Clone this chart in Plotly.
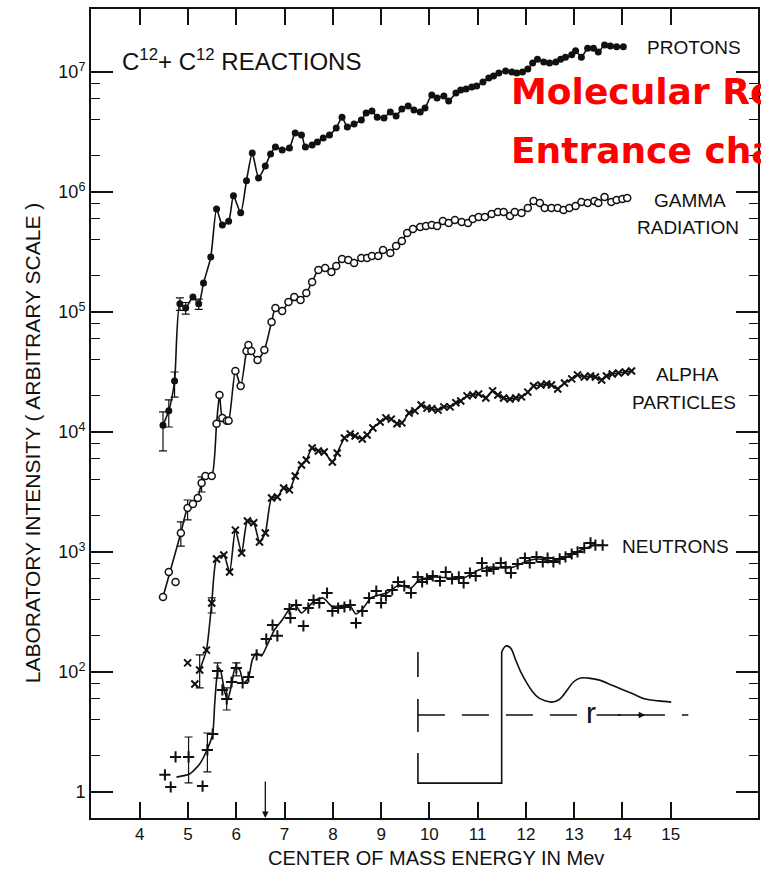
import plotly.graph_objects as go

# ---------------- data ----------------
protons_E = [4.48,4.60,4.72,4.83,4.95,5.10,5.22,5.32,5.47,5.59,5.71,5.84,5.94,6.09,6.21,6.33,6.46,6.60,6.71,6.81,
             6.95,7.10,7.22,7.35,7.43,7.57,7.68,7.80,7.93,8.07,8.19,8.30,8.44,8.59,8.69,8.81,8.92,9.06,9.19,9.31,
             9.43,9.56,9.68,9.81,9.91,10.05,10.16,10.30,10.40,10.55,10.65,10.76,10.88,10.98,11.11,11.23,11.33,11.44,11.58,11.71,
             11.81,11.93,12.04,12.14,12.24,12.37,12.49,12.62,12.72,12.82,12.95,13.03,13.15,13.28,13.40,13.50,13.63,13.75,13.88,14.02]
protons_I = [1.14e4,1.50e4,2.66e4,1.17e5,1.08e5,1.33e5,1.17e5,1.74e5,2.87e5,7.2e5,5.3e5,5.7e5,9.3e5,6.7e5,1.24e6,2.11e6,1.31e6,1.65e6,2.07e6,2.37e6,
             2.24e6,2.33e6,3.1e6,2.99e6,2.37e6,2.46e6,2.61e6,2.82e6,2.99e6,3.41e6,4.2e6,3.48e6,3.69e6,3.98e6,4.55e6,4.73e6,4.2e6,4.14e6,4.64e6,4.3e6,
             4.92e6,5.21e6,4.82e6,4.64e6,5.0e6,6.43e6,6.07e6,6.31e6,5.73e6,6.68e6,7.08e6,7.22e6,7.5e6,7.64e6,8.25e6,8.9e6,9.26e6,9.8e6,1.02e7,1.0e7,
             9.8e6,1.0e7,1.06e7,1.19e7,1.28e7,1.21e7,1.19e7,1.21e7,1.28e7,1.33e7,1.39e7,1.5e7,1.33e7,1.58e7,1.58e7,1.47e7,1.68e7,1.65e7,1.62e7,1.62e7]

gamma_E = [4.48,4.85,4.99,5.10,5.20,5.28,5.36,5.49,5.59,5.65,5.71,5.80,5.84,5.98,6.09,6.21,6.25,6.31,6.44,6.58,
           6.73,6.81,6.95,7.08,7.20,7.33,7.45,7.57,7.70,7.84,7.97,8.07,8.19,8.32,8.44,8.59,8.71,8.81,8.94,9.04,
           9.19,9.31,9.43,9.54,9.66,9.81,9.93,10.05,10.16,10.28,10.40,10.53,10.67,10.80,10.90,11.02,11.15,11.29,11.42,11.54,
           11.67,11.77,11.91,12.04,12.16,12.29,12.39,12.53,12.66,12.78,12.90,13.03,13.15,13.28,13.42,13.50,13.63,13.77,13.88,14.00,14.10]
gamma_I = [422,1440,2330,2510,2820,3760,4300,4300,1.17e4,2.03e4,1.31e4,1.24e4,1.24e4,3.22e4,2.42e4,4.73e4,5.31e4,4.73e4,3.98e4,4.82e4,
           8.25e4,1.08e5,1.02e5,1.21e5,1.33e5,1.26e5,1.44e5,1.78e5,2.24e5,2.33e5,2.15e5,2.42e5,2.77e5,2.71e5,2.56e5,2.82e5,2.82e5,2.93e5,2.93e5,3.29e5,
           3.1e5,3.55e5,3.91e5,4.55e5,4.92e5,5.11e5,5.21e5,5.31e5,5.21e5,5.73e5,5.52e5,5.84e5,5.62e5,5.52e5,5.96e5,6.19e5,6.19e5,6.56e5,6.81e5,6.81e5,
           6.31e5,6.81e5,6.68e5,7.36e5,8.41e5,8.1e5,7.36e5,7.36e5,7.36e5,7.08e5,7.36e5,7.64e5,8.25e5,8.1e5,8.41e5,8.1e5,9.09e5,8.25e5,8.58e5,8.74e5,8.9e5]
gamma_off_E = [4.60, 4.74]
gamma_off_I = [681, 562]

alpha_E = [5.24,5.38,5.49,5.59,5.74,5.86,5.98,6.11,6.23,6.36,6.48,6.60,6.73,6.85,6.98,7.10,7.22,7.35,7.45,7.57,
           7.70,7.82,7.99,8.09,8.24,8.36,8.46,8.61,8.71,8.83,8.98,9.10,9.21,9.33,9.43,9.58,9.70,9.83,9.95,10.05,
           10.18,10.30,10.43,10.55,10.65,10.78,10.90,11.02,11.17,11.31,11.42,11.54,11.67,11.79,11.91,12.04,12.16,12.31,12.43,12.53,
           12.66,12.80,12.95,13.07,13.21,13.34,13.44,13.57,13.67,13.79,13.92,14.06,14.19]
alpha_I = [104,152,376,875,944,681,1520,981,1810,1750,1210,1440,2820,2870,3410,3290,4300,5310,5840,7360,
           6950,6810,5620,6680,8910,9620,9260,8750,9440,1.08e4,1.21e4,1.31e4,1.28e4,1.17e4,1.19e4,1.44e4,1.5e4,1.68e4,1.58e4,1.56e4,
           1.52e4,1.62e4,1.62e4,1.75e4,1.81e4,2.0e4,2.03e4,2.07e4,1.92e4,2.2e4,2.03e4,1.92e4,1.88e4,1.92e4,1.96e4,2.15e4,2.42e4,2.46e4,2.51e4,2.46e4,
           2.28e4,2.56e4,2.77e4,2.99e4,2.87e4,2.93e4,2.87e4,2.71e4,2.93e4,3.04e4,3.1e4,3.16e4,3.22e4]
alpha_off_E = [4.99, 5.14]
alpha_off_I = [119, 79.4]

neutron_E = [4.52,4.64,4.74,5.01,5.30,5.40,5.51,5.61,5.71,5.80,5.90,6.00,6.13,6.25,6.42,6.62,6.75,6.85,7.10,7.12,
             7.24,7.39,7.49,7.60,7.72,7.88,7.99,8.11,8.24,8.36,8.48,8.61,8.75,8.90,9.00,9.10,9.23,9.35,9.48,9.62,
             9.76,9.85,9.95,10.07,10.22,10.34,10.47,10.61,10.71,10.84,10.96,11.09,11.19,11.33,11.48,11.58,11.69,11.83,11.98,12.08,
             12.22,12.35,12.45,12.57,12.70,12.82,12.95,13.07,13.21,13.34,13.44,13.59]
neutron_I = [13.9,11.0,19.6,19.6,11.2,22.4,30.4,102,70.8,59.6,82.5,108,81,90.8,139,188,246,200,335,282,
             361,242,341,398,376,455,322,341,348,361,256,322,414,473,376,430,482,562,521,455,
             619,562,596,631,573,681,596,619,552,668,631,810,695,722,810,750,668,794,891,810,
             909,825,891,825,875,909,962,1000,1080,1190,1140,1140]
ncurve_E = [4.76,5.03,5.24,5.40,5.51,5.55,5.59,5.63,5.67,5.76,5.82,5.90,5.98,6.07,6.15,6.25,6.33,6.42,6.52,6.64,
            6.79,6.95,7.10,7.22,7.35,7.49,7.64,7.80,7.97,8.13,8.34,8.48,8.63,8.79,8.96,9.12,9.37,9.62,9.79,10.10,
            10.40,10.71,11.02,11.27,11.54,11.75,12.02,12.26,12.57,12.88,13.19,13.44]
ncurve_I = [13.3,14.1,17.1,22.8,30.4,53,85.8,108,104,68,58.5,78,110,104,81,89,126,144,136,168,
            224,271,335,361,310,348,398,414,355,355,361,304,341,414,438,455,531,501,584,619,
            607,607,708,750,736,750,841,875,841,926,1059,1143]

# error bars: energy, value, upper end, lower end
p_err_E = [4.48, 4.60, 4.72, 4.83, 4.95, 5.22]
p_err_I = [1.14e4, 1.5e4, 2.66e4, 1.17e5, 1.08e5, 1.17e5]
p_err_hi = [1.47e4, 1.85e4, 3.16e4, 1.31e5, 1.20e5, 1.28e5]
p_err_lo = [6.95e3, 1.1e4, 1.95e4, 1.03e5, 9.6e4, 1.05e5]
g_err_E = [4.85, 4.99, 5.28]
g_err_I = [1440, 2330, 3760]
g_err_hi = [1780, 2710, 4220]
g_err_lo = [1120, 1850, 3160]
a_err_E = [5.24, 5.49]
a_err_I = [104, 376]
a_err_hi = [139, 414]
a_err_lo = [73.6, 310]
n_err_E = [5.01, 5.40, 5.61, 5.80, 6.00]
n_err_I = [19.6, 22.4, 102, 59.6, 108]
n_err_hi = [28.7, 31, 119, 73.6, 119]
n_err_lo = [11.9, 14.7, 89, 48.2, 92.7]

threshold_E = 6.6

x_ticks = [4, 5, 6, 7, 8, 9, 10, 11, 12, 13, 14, 15]
y_ticks = [1e1, 1e2, 1e3, 1e4, 1e5, 1e6, 1e7]
y_ticktext = ["1", "10<sup>2</sup>", "10<sup>3</sup>", "10<sup>4</sup>", "10<sup>5</sup>", "10<sup>6</sup>", "10<sup>7</sup>"]
y_minor = [m * 10 ** d for d in range(1, 7) for m in (2, 4, 6, 8)]

# inset: schematic nuclear potential V(r)
wall_r = [0.63, 0.63, None, 0.63, 0.63, None, 0.63, 0.63, 3.43, 3.43]
wall_V = [2.10, 1.27, None, 0.53, -0.57, None, -1.27, -2.27, -2.27, 2.10]
barrier_r = [3.43, 3.57, 3.73, 3.90, 4.07, 4.27, 4.47, 4.67, 4.90, 5.10, 5.33, 5.50, 5.67, 5.83, 6.07,
             6.33, 6.67, 7.10, 7.50, 7.83, 8.23, 8.67, 9.10]
barrier_V = [2.10, 2.30, 2.23, 1.83, 1.43, 1.07, 0.77, 0.57, 0.47, 0.43, 0.50, 0.67, 0.90, 1.10, 1.23,
             1.23, 1.17, 1.00, 0.83, 0.70, 0.53, 0.47, 0.43]
raxis_r = [0.63, 9.67]
raxis_V = [0, 0]

FONT = "Liberation Sans, Arial, Helvetica, sans-serif"
BLACK = "#111111"

fig = go.Figure()

def err_trace(E, I, hi, lo):
    return go.Scatter(
        x=E, y=I, mode="markers", marker=dict(size=1, color="rgba(0,0,0,0)"),
        error_y=dict(type="data", symmetric=False,
                     array=[h - v for h, v in zip(hi, I)],
                     arrayminus=[v - l for v, l in zip(I, lo)],
                     color=BLACK, thickness=1.2, width=4),
        showlegend=False, hoverinfo="skip")

for E, I, hi, lo in [(p_err_E, p_err_I, p_err_hi, p_err_lo), (g_err_E, g_err_I, g_err_hi, g_err_lo),
                     (a_err_E, a_err_I, a_err_hi, a_err_lo), (n_err_E, n_err_I, n_err_hi, n_err_lo)]:
    fig.add_trace(err_trace(E, I, hi, lo))

line = dict(color=BLACK, width=1.6, shape="spline", smoothing=0.6)

fig.add_trace(go.Scatter(x=protons_E, y=protons_I, mode="lines+markers", name="Protons",
                         line=line, marker=dict(symbol="circle", size=7, color=BLACK)))
fig.add_trace(go.Scatter(x=gamma_E, y=gamma_I, mode="lines+markers", name="Gamma radiation",
                         line=line, marker=dict(symbol="circle", size=7, color="white",
                                                line=dict(color=BLACK, width=1.5))))
fig.add_trace(go.Scatter(x=gamma_off_E, y=gamma_off_I, mode="markers", showlegend=False,
                         marker=dict(symbol="circle", size=7, color="white", line=dict(color=BLACK, width=1.5))))
fig.add_trace(go.Scatter(x=alpha_E, y=alpha_I, mode="lines+markers", name="Alpha particles",
                         line=line, marker=dict(symbol="x-thin", size=7, line=dict(color=BLACK, width=2))))
fig.add_trace(go.Scatter(x=alpha_off_E, y=alpha_off_I, mode="markers", showlegend=False,
                         marker=dict(symbol="x-thin", size=7, line=dict(color=BLACK, width=2))))
fig.add_trace(go.Scatter(x=ncurve_E, y=ncurve_I, mode="lines", showlegend=False, line=line))
fig.add_trace(go.Scatter(x=neutron_E, y=neutron_I, mode="markers", name="Neutrons",
                         marker=dict(symbol="cross-thin", size=8, line=dict(color=BLACK, width=2))))

# inset traces
fig.add_trace(go.Scatter(x=wall_r, y=wall_V, xaxis="x2", yaxis="y2", mode="lines",
                         line=dict(color=BLACK, width=1.6), showlegend=False, hoverinfo="skip"))
fig.add_trace(go.Scatter(x=barrier_r, y=barrier_V, xaxis="x2", yaxis="y2", mode="lines",
                         line=dict(color=BLACK, width=1.6, shape="spline", smoothing=1.0),
                         showlegend=False, hoverinfo="skip"))
fig.add_trace(go.Scatter(x=raxis_r, y=raxis_V, xaxis="x2", yaxis="y2", mode="lines",
                         line=dict(color=BLACK, width=1.3, dash="27px,17px"),
                         showlegend=False, hoverinfo="skip"))

ann = []
def label(text, x, y, size=19, xanchor="center", color=BLACK, family=FONT):
    ann.append(dict(text=text, x=x, y=y, xref="paper", yref="paper", xanchor=xanchor, yanchor="middle",
                    showarrow=False, font=dict(size=size, color=color, family=family)))

label("PROTONS", 0.9036, 0.9518)
label("GAMMA", 0.8984, 0.7639)
label("RADIATION", 0.8954, 0.7305)
label("ALPHA", 0.8939, 0.5476)
label("PARTICLES", 0.8894, 0.5130)
label("NEUTRONS", 0.8767, 0.3350)
label("C<sup>12</sup>+ C<sup>12</sup> REACTIONS", 0.0433, 0.937, size=24, xanchor="left")
# red overlay text (runs past the right edge, as in the reference)
label("<b>Molecular Resonances</b>", 0.6263, 0.8986, size=36, xanchor="left", color="#FF0000",
      family="DejaVu Sans, sans-serif")
label("<b>Entrance channel</b>", 0.6263, 0.8245, size=36, xanchor="left", color="#FF0000",
      family="DejaVu Sans, sans-serif")
# axis titles
ann.append(dict(text="LABORATORY INTENSITY ( ARBITRARY SCALE )", x=-0.0882, y=0.4635, xref="paper", yref="paper",
                textangle=-90, showarrow=False, xanchor="center", yanchor="middle",
                font=dict(size=21, color=BLACK, family=FONT)))
ann.append(dict(text="CENTER OF MASS ENERGY IN Mev", x=0.5172, y=-0.0494, xref="paper", yref="paper",
                showarrow=False, xanchor="center", yanchor="middle", font=dict(size=20, color=BLACK, family=FONT)))
# threshold arrow
ann.append(dict(x=threshold_E, y=0, xref="x", yref="paper", ax=0, ay=-38, showarrow=True,
                arrowhead=2, arrowsize=1, arrowwidth=1.3, arrowcolor=BLACK, standoff=0, text=""))
# inset labels
ann.append(dict(text="V", x=-0.27, y=0, xref="x2", yref="y2", showarrow=False, xanchor="center", yanchor="middle",
                font=dict(size=29, color=BLACK, family=FONT)))
ann.append(dict(text="r", x=6.43, y=0.08, xref="x2", yref="y2", showarrow=False, xanchor="center", yanchor="middle",
                bgcolor="white", borderpad=0, font=dict(size=30, color=BLACK, family=FONT)))
ann.append(dict(x=8.23, y=0, ax=7.27, ay=0, xref="x2", yref="y2", axref="x2", ayref="y2", text="",
                showarrow=True, arrowhead=2, arrowsize=1, arrowwidth=1.3, arrowcolor=BLACK, standoff=0))

fig.update_layout(
    width=761, height=870,
    margin=dict(l=91, r=1, t=9, b=52),
    paper_bgcolor="white", plot_bgcolor="white",
    showlegend=False,
    font=dict(family=FONT, color=BLACK),
    annotations=ann,
    xaxis=dict(range=[2.988, 16.81], tickvals=x_ticks, ticks="inside", ticklen=16, tickwidth=1.5,
               tickcolor=BLACK, showline=True, linewidth=2, linecolor=BLACK, mirror="ticks",
               showgrid=False, zeroline=False, tickfont=dict(size=17, family=FONT)),
    yaxis=dict(type="log", range=[0.783, 7.525], tickvals=y_ticks, ticktext=y_ticktext,
               ticks="inside", ticklen=22, tickwidth=1.5, tickcolor=BLACK,
               minor=dict(tickvals=y_minor, ticks="inside", ticklen=9, tickwidth=1.2, tickcolor=BLACK),
               showline=True, linewidth=2, linecolor=BLACK, mirror="ticks",
               showgrid=False, zeroline=False, tickfont=dict(size=18, family=FONT)),
    xaxis2=dict(domain=[0.4619, 0.9103], anchor="y2", range=[0, 10], visible=False),
    yaxis2=dict(domain=[0.0284, 0.2324], anchor="x2", range=[-2.667, 2.833], visible=False),
)

fig.write_html("out.html")
